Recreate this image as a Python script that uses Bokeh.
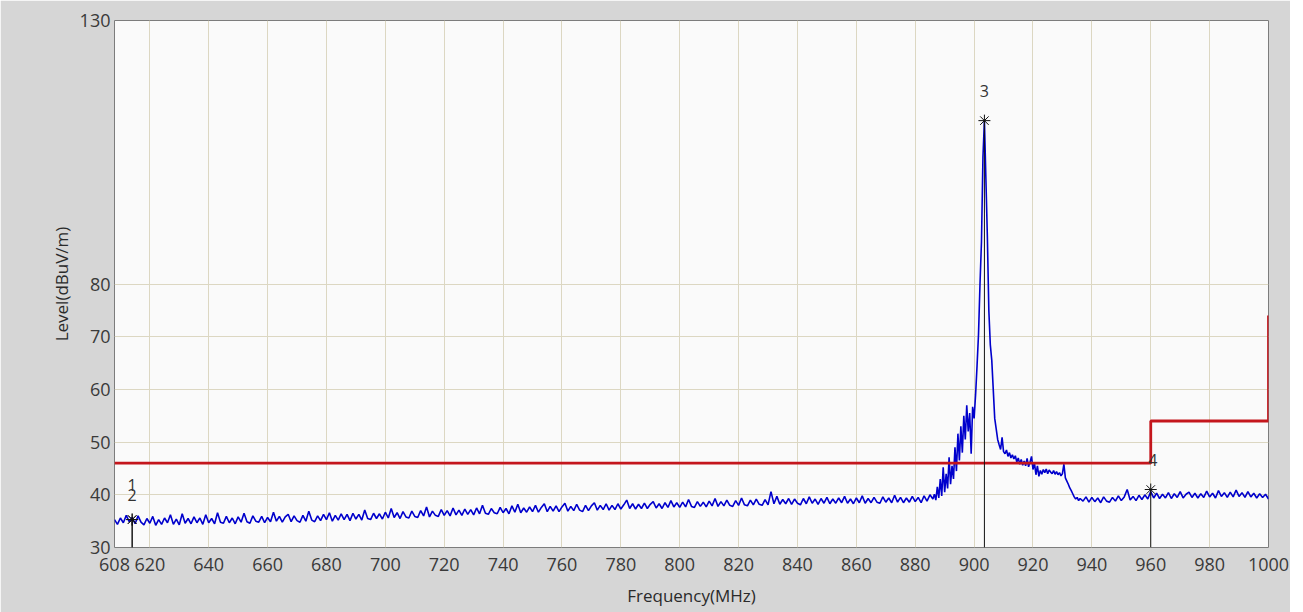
import numpy as np
from bokeh.plotting import figure
from bokeh.models import FixedTicker, ColumnDataSource, Range1d
from bokeh.core.properties import value
from bokeh.embed import file_html
from bokeh.resources import INLINE

# ---------------- data ----------------
x_ticks = [608, 620, 640, 660, 680, 700, 720, 740, 760, 780, 800, 820, 840, 860,
           880, 900, 920, 940, 960, 980, 1000]
y_ticks = [30, 40, 50, 60, 70, 80, 130]

# trace, segment 1: 608..885 MHz, 1 MHz steps
seg1_freq = np.arange(608, 886, 1.0)
seg1_level = [
    35.3, 34.4, 35.6, 34.7, 36.1, 34.9, 35.7, 34.5, 36.0, 34.8,
    34.3, 35.5, 34.6, 35.9, 34.2, 35.3, 34.4, 35.6, 34.7, 36.2,
    34.4, 35.4, 34.3, 36.4, 34.6, 35.5, 34.5, 35.8, 34.7, 35.6,
    34.4, 36.2, 34.7, 35.5, 34.5, 36.6, 34.8, 34.6, 35.9, 34.7,
    35.6, 34.5, 35.8, 34.8, 36.5, 34.9, 34.6, 36.0, 35.0, 34.8,
    35.9, 34.7, 35.7, 34.9, 36.7, 35.0, 35.9, 34.8, 35.8, 36.3,
    34.9, 36.0, 35.1, 34.8, 36.1, 35.0, 36.9, 35.2, 34.9, 36.0,
    35.1, 36.3, 35.3, 36.6, 35.0, 36.1, 35.2, 36.4, 35.3, 36.3,
    35.1, 36.5, 35.4, 36.3, 35.2, 37.1, 35.5, 35.3, 36.5, 35.5,
    36.4, 35.4, 36.7, 35.6, 37.4, 35.7, 36.6, 35.5, 36.8, 35.8,
    35.6, 36.9, 35.9, 35.7, 37.0, 36.0, 37.7, 35.8, 36.9, 36.1,
    35.9, 37.2, 36.1, 37.0, 36.0, 37.5, 36.2, 37.1, 36.1, 37.3,
    36.3, 37.2, 36.2, 37.5, 36.4, 38.0, 36.5, 36.3, 37.4, 36.6,
    36.4, 37.6, 36.6, 37.4, 36.4, 37.9, 36.7, 38.2, 36.6, 37.5,
    36.7, 37.7, 36.8, 38.0, 36.7, 37.6, 38.3, 36.8, 37.8, 36.9,
    37.9, 36.8, 37.7, 38.4, 36.9, 37.8, 37.0, 38.2, 37.1, 36.8,
    38.0, 37.0, 37.9, 38.5, 37.1, 38.0, 37.2, 38.3, 37.1, 38.0,
    37.2, 38.3, 37.3, 38.1, 39.0, 37.4, 38.3, 37.3, 38.2, 37.4,
    38.4, 37.4, 38.2, 38.7, 37.5, 38.3, 37.4, 38.5, 37.6, 38.9,
    37.7, 38.5, 37.6, 38.6, 37.7, 39.1, 37.8, 37.6, 38.7, 37.8,
    38.6, 37.7, 38.8, 37.9, 39.3, 37.8, 38.7, 37.9, 39.0, 38.0,
    37.8, 38.9, 38.0, 39.4, 38.1, 37.9, 39.0, 38.1, 39.2, 38.2,
    38.0, 39.1, 38.1, 40.6, 38.3, 39.7, 38.2, 39.1, 38.3, 39.3,
    38.2, 39.2, 38.4, 38.1, 39.3, 38.3, 39.6, 38.4, 39.2, 38.2,
    39.3, 38.4, 39.5, 38.3, 39.2, 38.4, 39.4, 38.5, 39.7, 38.4,
    39.2, 38.3, 39.4, 38.5, 39.8, 38.4, 39.3, 38.5, 39.5, 38.6,
    38.4, 39.6, 38.6, 39.4, 38.5, 39.9, 38.6, 39.5, 38.5, 39.4,
    38.6, 39.7, 38.7, 39.5, 38.5, 39.8, 38.8, 40.0,
]

# trace, segment 2: 886..936 MHz, 0.5 MHz steps (emission around 903 MHz)
seg2_freq = np.arange(886, 936.01, 0.5)
seg2_level = [
    39.2, 40.1, 39.0, 41.5, 39.4, 43.0, 39.8, 45.2, 40.5, 44.0,
    41.2, 47.1, 42.0, 45.5, 43.0, 49.0, 44.5, 51.6, 46.5, 53.0,
    48.0, 55.0, 50.5, 57.0, 52.0, 55.5, 47.8, 56.7, 54.5, 59.0,
    64.5, 70.5, 80.0, 88.0, 104.0, 111.0, 100.0, 89.0, 75.0, 68.5,
    65.5, 60.0, 54.5, 52.5, 50.5, 49.5, 48.6, 50.9, 48.2, 47.8,
    48.5, 47.3, 48.0, 47.0, 47.6, 46.8, 47.4, 46.2, 47.0, 45.8,
    46.7, 45.6, 46.4, 45.5, 46.9, 45.3, 46.2, 47.3, 44.8, 46.0,
    43.8, 45.5, 43.5, 44.6, 43.9, 44.8, 44.2, 44.9, 44.0, 44.7,
    44.3, 44.0, 44.6, 43.9, 44.4, 43.8, 44.2, 43.6, 44.0, 45.8,
    43.2, 42.6, 42.0, 41.3, 40.8, 40.2, 39.6, 39.2, 39.5, 38.9,
    39.3,
]

# trace, segment 3: 937..1000 MHz, 1 MHz steps
seg3_freq = np.arange(937, 1000.01, 1.0)
seg3_level = [
    38.8, 39.6, 38.6, 39.5, 38.7, 39.4, 38.5, 39.6, 38.8, 38.6,
    39.5, 38.8, 39.8, 38.9, 39.6, 41.0, 39.0, 39.7, 38.9, 39.9,
    39.1, 40.0, 39.2, 40.6, 39.4, 40.3, 39.3, 40.1, 39.4, 40.4,
    39.3, 40.2, 39.5, 40.6, 39.4, 40.1, 40.5, 39.5, 40.3, 39.4,
    40.2, 39.5, 40.7, 39.6, 40.3, 39.4, 40.8, 39.7, 40.4, 39.5,
    40.5, 39.6, 40.9, 39.7, 40.4, 39.5, 40.6, 39.6, 40.3, 39.4,
    40.2, 39.5, 40.1, 39.2,
]

# limit line
limit_freq = [608, 960, 960, 1000, 1000]
limit_level = [46, 46, 54, 54, 74]

# markers
marker_ids = ["1", "2", "3", "4"]
marker_freq = [614.0, 614.0, 903.5, 960.0]
marker_level = [35.3, 35.3, 111.0, 41.0]

# ---------------- figure ----------------
freq = np.concatenate([seg1_freq, seg2_freq, seg3_freq])
level = np.concatenate([seg1_level, seg2_level, seg3_level])

p = figure(width=1290, height=612, output_backend="svg", toolbar_location=None,
           x_range=Range1d(608, 1000), y_range=Range1d(30, 130),
           min_border_left=114, min_border_right=22, min_border_top=20,
           min_border_bottom=65)

p.background_fill_color = "#fafafa"
p.border_fill_color = "#d6d6d6"
p.outline_line_color = "#7c7c7c"
p.outline_line_width = 1

p.xaxis.ticker = FixedTicker(ticks=x_ticks)
p.yaxis.ticker = FixedTicker(ticks=y_ticks)
p.xgrid.ticker = FixedTicker(ticks=x_ticks)
p.ygrid.ticker = FixedTicker(ticks=y_ticks)
p.grid.grid_line_color = "#dcd7c2"
p.grid.grid_line_width = 1

for ax in (p.xaxis, p.yaxis):
    ax.axis_line_color = None
    ax.major_tick_line_color = None
    ax.minor_tick_line_color = None
    ax.major_label_text_font = "Open Sans"
    ax.major_label_text_font_size = "18px"
    ax.major_label_text_color = "#3a3a3a"
    ax.axis_label_text_font = "Open Sans"
    ax.axis_label_text_font_size = "17px"
    ax.axis_label_text_font_style = "normal"
    ax.axis_label_text_color = "#2a2a2a"

p.xaxis.axis_label = "Frequency(MHz)"
p.yaxis.axis_label = "Level(dBuV/m)"
p.xaxis.major_label_standoff = 4
p.xaxis.axis_label_standoff = 10
p.yaxis.major_tick_out = 0
p.yaxis.major_label_standoff = 4
p.yaxis.axis_label_standoff = 4

# trace
p.line(freq, level, line_color="#0000cc", line_width=1.6)

# limit line
p.line(limit_freq, limit_level, line_color="#c4161c", line_width=2.8)

# marker lines + stars
p.segment(x0=marker_freq, y0=[30] * len(marker_freq), x1=marker_freq, y1=marker_level,
          line_color="#111111", line_width=1)
p.scatter(marker_freq, marker_level, marker="asterisk", size=12,
          line_color="#111111", line_width=1)

label_src = ColumnDataSource(dict(x=marker_freq, y=marker_level, t=marker_ids,
                                  dy=[-35, -25, -30, -30], dx=[0, 0, 0, 2]))
p.text(x="x", y="y", text="t", source=label_src, x_offset="dx", y_offset="dy",
       text_align="center", text_baseline="middle", text_font=value("Open Sans"),
       text_font_size="16px", text_color="#333333")

open("out.html", "w").write(file_html(p, INLINE))
